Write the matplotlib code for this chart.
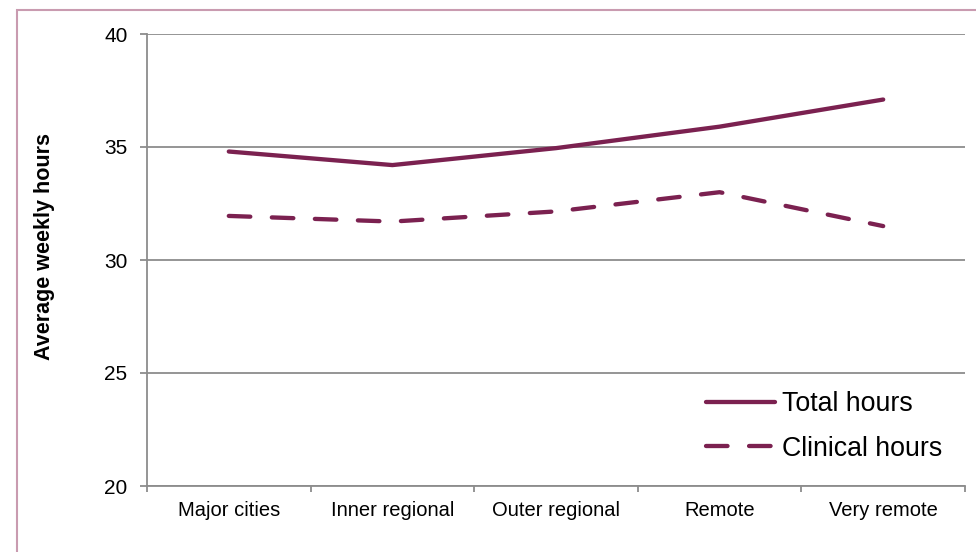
import matplotlib
matplotlib.use("Agg")
import matplotlib.pyplot as plt
from matplotlib.patches import Rectangle

plt.rcParams['font.family'] = ['Liberation Sans', 'DejaVu Sans']

categories = ["Major cities", "Inner regional", "Outer regional", "Remote", "Very remote"]
total_hours = [34.8, 34.2, 34.95, 35.9, 37.1]
clinical_hours = [31.95, 31.7, 32.15, 33.0, 31.5]
y_ticks = [20, 25, 30, 35, 40]

color = "#7B2150"
grid_c = "#8C8C8C"

fig = plt.figure(figsize=(9.76, 5.52), dpi=100)
W, H = 976, 552
ax = fig.add_axes([147 / W, 1 - 486 / H, (965 - 147) / W, (486 - 34) / H])

x = list(range(len(categories)))
ax.plot(x, total_hours, color=color, lw=3.1, solid_capstyle='round', label="Total hours")
ax.plot(x, clinical_hours, color=color, lw=3.1, linestyle=(0, (5.0, 5.0)),
        dash_capstyle='round', label="Clinical hours")

ax.set_xlim(-0.5, len(categories) - 0.5)
ax.set_ylim(20, 40)
ax.set_yticks(y_ticks)
ax.yaxis.grid(True, color=grid_c, lw=1.3)
ax.set_axisbelow(True)

ax.set_xticks(x)
ax.set_xticklabels(categories, fontsize=14.5)
ax.set_xticks([i - 0.5 for i in range(len(categories) + 1)], minor=True)
ax.tick_params(axis='x', which='major', length=0, pad=11)
ax.tick_params(axis='x', which='minor', length=4.5, color=grid_c, width=1.3)
ax.tick_params(axis='y', length=5, color=grid_c, width=1.3, labelsize=15, pad=9)

for s in ['top', 'right']:
    ax.spines[s].set_visible(False)
for s in ['left', 'bottom']:
    ax.spines[s].set_color(grid_c)
    ax.spines[s].set_linewidth(1.3)

fig.text(45 / W, 1 - 246.5 / H, "Average weekly hours", fontsize=15.5, fontweight='bold',
         rotation=90, ha='center', va='center')

leg = ax.legend(loc='center left', bbox_to_anchor=(706 / W, 1 - 426.5 / H),
                bbox_transform=fig.transFigure, frameon=False,
                fontsize=19.3, handlelength=2.58, handletextpad=0.26, labelspacing=0.68,
                borderaxespad=0, borderpad=0)

fig.patches.append(Rectangle((17 / W, -0.1), 1.2, 1.1 - 10 / H, transform=fig.transFigure,
                             fill=False, edgecolor="#C99BB0", lw=1.5))

fig.savefig("out.png", dpi=100)
